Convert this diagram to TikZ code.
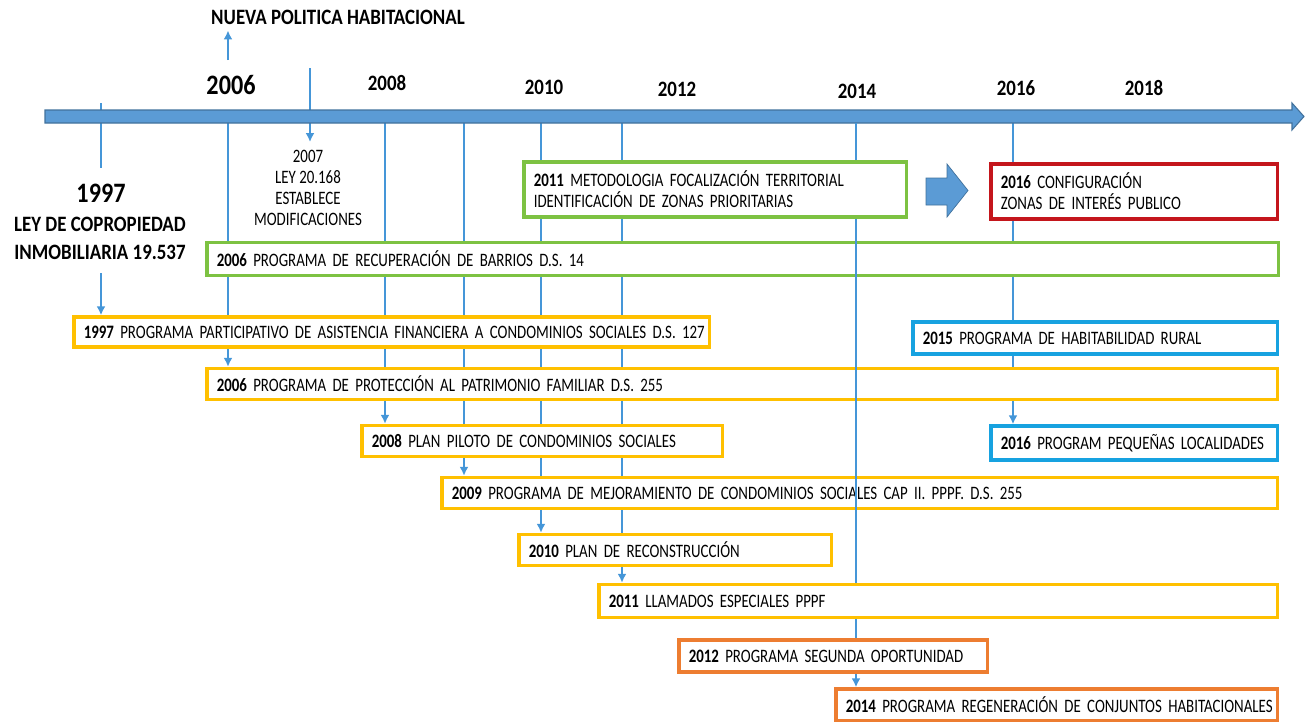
\documentclass[tikz,border=0pt]{standalone}
\usepackage{fontspec}
\setmainfont{Carlito}[FakeStretch=0.86]
\newfontfamily\progfamily{Carlito}[FakeStretch=0.785]
\usetikzlibrary{arrows.meta, positioning, backgrounds}

\definecolor{bandblue}{HTML}{5B9BD5}
\definecolor{banddark}{HTML}{41719C}
\definecolor{lineblue}{HTML}{4596D8}
\definecolor{boxgold}{HTML}{FFC000}
\definecolor{boxgreen}{HTML}{7DC242}
\definecolor{boxred}{HTML}{C4161C}
\definecolor{boxorange}{HTML}{ED7D31}
\definecolor{boxcyan}{HTML}{17A2E0}

\tikzset{
  progbox/.style={draw=#1, fill=white, line width=2pt, anchor=west,
    inner xsep=0.2cm, inner ysep=0pt, align=left,
    font=\progfamily\fontsize{10.8}{12}\selectfont},
  yearline/.style={lineblue, line width=1.4pt},
  yearlbl/.style={font=\bfseries\fontsize{12.5}{14}\selectfont},
}

\begin{document}
\begin{tikzpicture}[x=0.02cm, y=-0.02cm, >={Latex[length=5pt,width=5pt]}]
    \useasboundingbox (0,0) rectangle (1306,721);

    % --- Header and year labels ---
    \node[yearlbl] (nueva) at (338,17) {NUEVA POLITICA HABITACIONAL};
    \node[font=\bfseries\fontsize{16}{18}\selectfont] (l2006) at (231,85) {2006};
    \node[yearlbl] (l2008) at (387,83) {2008};
    \node[yearlbl] (l2010) at (544,87) {2010};
    \node[yearlbl] (l2012) at (677,89) {2012};
    \node[yearlbl] (l2014) at (857,91) {2014};
    \node[yearlbl] (l2016) at (1016,88) {2016};
    \node[yearlbl] (l2018) at (1144,88) {2018};

    % --- Tick positions on the band ---
    \coordinate (t1997) at (101,103);
    \coordinate (t2006) at (228,123);
    \coordinate (t2008) at (385,123);
    \coordinate (t2009) at (464,123);
    \coordinate (t2010) at (541,123);
    \coordinate (t2011) at (622,123);
    \coordinate (t2014) at (856,123);
    \coordinate (t2016) at (1013,123);

    % --- Time band ---
    \draw[fill=bandblue, draw=banddark, line width=0.6pt]
      (45,110) -- (1292,110) -- (1292,103) -- (1304,116.5) -- (1292,130)
      -- (1292,123) -- (45,123) -- cycle;

    % --- 1997 law ---
    \node[font=\bfseries\fontsize{16}{18}\selectfont] (l1997) at (101,193) {1997};
    \node[align=center, font=\bfseries\fontsize{12.5}{15.9}\selectfont] (ley1997)
      at (100,238) {LEY DE COPROPIEDAD\\INMOBILIARIA 19.537};
    \coordinate (c1997a) at (101,168);
    \coordinate (c1997b) at (101,273);

    % --- 2007 law ---
    \coordinate (c2007a) at (310,68);
    \coordinate (c2007b) at (310,142);
    \node[align=center, font=\progfamily\fontsize{10.8}{12}\selectfont] (ley2007) at (308,188)
      {2007\\LEY 20.168\\ESTABLECE\\MODIFICACIONES};
    \coordinate (c2006up) at (228,60);

    % --- Programme boxes ---
    \node[progbox=boxgreen, text width=21.04cm, minimum height=0.66cm] (recup) at (205,259)
      {\textbf{2006} PROGRAMA DE RECUPERACIÓN DE BARRIOS D.S. 14};
    \node[progbox=boxgold, text width=12.32cm, minimum height=0.6cm] (b1997) at (72,332)
      {\mbox{\textbf{1997} PROGRAMA PARTICIPATIVO DE ASISTENCIA FINANCIERA A CONDOMINIOS SOCIALES D.S. 127}};
    \node[progbox=boxgold, text width=21.02cm, minimum height=0.62cm] (ppf) at (205,384)
      {\textbf{2006} PROGRAMA DE PROTECCIÓN AL PATRIMONIO FAMILIAR D.S. 255};
    \node[progbox=boxgold, text width=6.82cm, minimum height=0.62cm] (p2008) at (360,441)
      {\mbox{\textbf{2008} PLAN PILOTO DE CONDOMINIOS SOCIALES}};
    \node[progbox=boxgold, text width=16.32cm, minimum height=0.62cm] (p2009) at (440,493)
      {\mbox{\textbf{2009} PROGRAMA DE MEJORAMIENTO DE CONDOMINIOS SOCIALES CAP II. PPPF. D.S. 255}};
    \node[progbox=boxgold, text width=5.86cm, minimum height=0.62cm] (p2010) at (517,550)
      {\mbox{\textbf{2010} PLAN DE RECONSTRUCCIÓN}};
    \node[progbox=boxcyan, text width=6.9cm, minimum height=0.64cm] (p2015) at (911,338)
      {\mbox{\textbf{2015} PROGRAMA DE HABITABILIDAD RURAL}};
    \node[progbox=boxcyan, text width=5.34cm, minimum height=0.68cm] (p2016) at (989,443)
      {\mbox{\textbf{2016} PROGRAM PEQUEÑAS LOCALIDADES}};
    \node[progbox=boxred, text width=5.34cm, minimum height=1.1cm] (zonas) at (989,191.5)
      {\mbox{\textbf{2016} CONFIGURACIÓN}\\\mbox{ZONAS DE INTERÉS PUBLICO}};
    \node[progbox=boxgreen, text width=7.26cm, minimum height=1.1cm] (metod) at (522,189.5)
      {\mbox{\textbf{2011} METODOLOGIA FOCALIZACIÓN TERRITORIAL}\\\mbox{IDENTIFICACIÓN DE ZONAS PRIORITARIAS}};
    \node[progbox=boxgold, text width=13.18cm, minimum height=0.66cm] (p2011) at (597,601)
      {\mbox{\textbf{2011} LLAMADOS ESPECIALES PPPF}};
    \node[progbox=boxorange, text width=5.78cm, minimum height=0.64cm] (p2012) at (677,656)
      {\mbox{\textbf{2012} PROGRAMA SEGUNDA OPORTUNIDAD}};
    \node[progbox=boxorange, text width=8.44cm, minimum height=0.64cm] (p2014) at (834,705)
      {\mbox{\textbf{2014} PROGRAMA REGENERACIÓN DE CONJUNTOS HABITACIONALES}};

    % --- Block arrow towards 2016 ---
    \draw[fill=bandblue, draw=banddark, line width=0.4pt]
      (926,178) -- (947,178) -- (947,164) -- (968,190.5) -- (947,217)
      -- (947,205) -- (926,205) -- cycle;

    % --- Year lines behind the boxes ---
    \begin{scope}[on background layer]
      \draw[yearline] (t1997) -- (c1997a);
      \draw[yearline,->] (c1997b) -- (b1997.north -| t1997);
      \draw[yearline,->] (c2006up) -- (nueva.south -| c2006up);
      \draw[yearline,->] (c2007a) -- (c2007b);
      \draw[yearline,->] (t2006) -- (ppf.north -| t2006);
      \draw[yearline,->] (t2008) -- (p2008.north -| t2008);
      \draw[yearline,->] (t2009) -- (p2009.north -| t2009);
      \draw[yearline,->] (t2010) -- (p2010.north -| t2010);
      \draw[yearline,->] (t2011) -- (p2011.north -| t2011);
      \draw[yearline,->] (t2016) -- (p2016.north -| t2016);
    \end{scope}

    % --- 2014 line, over some boxes ---
    \draw[yearline] (t2014) -- (metod.north -| t2014);
    \draw[yearline] (metod.south -| t2014) -- (p2011.north -| t2014);
    \draw[yearline] (p2011.south -| t2014) -- (p2012.north -| t2014);
    \draw[yearline,->] (p2012.south -| t2014) -- (p2014.north -| t2014);
\end{tikzpicture}
\end{document}
